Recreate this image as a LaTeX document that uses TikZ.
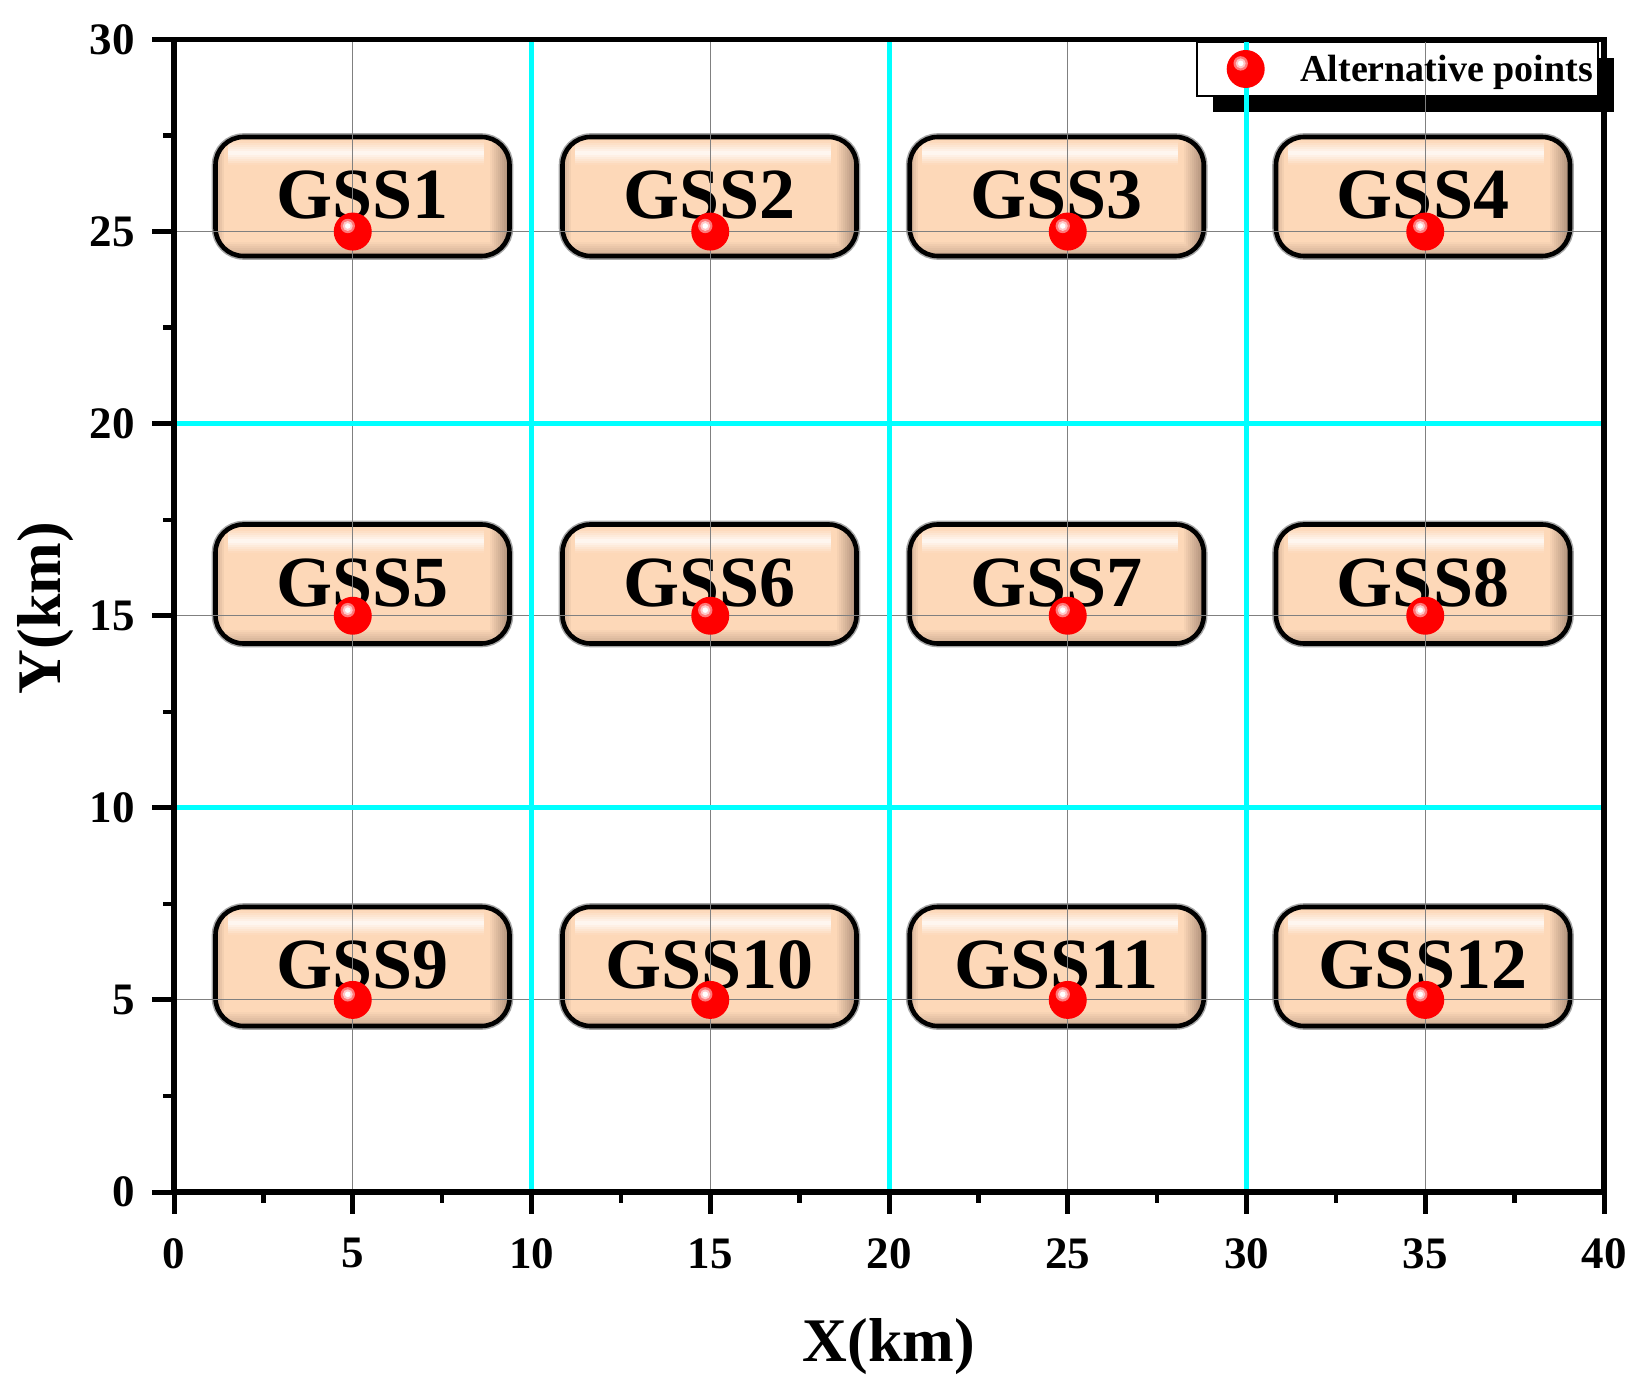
\documentclass[tikz,border=0pt]{standalone}
\usepackage{fontspec}
\setmainfont{Liberation Serif}
\usetikzlibrary{shadows,calc}
\definecolor{peach}{RGB}{253,216,184}
\definecolor{bevel}{RGB}{140,112,95}
\definecolor{gridgray}{RGB}{128,128,128}
\definecolor{gridcyan}{RGB}{0,255,255}
\definecolor{ballpink}{RGB}{255,120,120}
\definecolor{balllight}{RGB}{255,200,200}
\begin{document}
\begin{tikzpicture}[x=0.5pt,y=-0.5pt,
  gssbox/.style={draw=black, line width=2.3pt, rounded corners=14pt, fill=peach,
    minimum width=147pt, minimum height=59.5pt, inner sep=0pt,
    preaction={draw=black!35, line width=3.8pt},
    path picture={
      % right dark bevel
      \foreach \s in {0,...,9}{
        \pgfmathtruncatemacro\p{(\s+1)*7}
        \fill[sharp corners, bevel!\p!peach] ([xshift={-10pt+\s*1pt}]path picture bounding box.north east)
          rectangle (path picture bounding box.south east);}
      % bottom dark bevel
      \foreach \s in {0,...,6}{
        \pgfmathtruncatemacro\p{(\s+1)*6}
        \fill[sharp corners, bevel!\p!peach, opacity=0.8] ([yshift={7pt-\s*1pt}]path picture bounding box.south west)
          rectangle ([xshift={-10pt+\s*1pt}]path picture bounding box.south east);}
      % left soft bevel
      \foreach \s in {0,...,3}{
        \pgfmathtruncatemacro\p{(4-\s)*9}
        \fill[sharp corners, bevel!\p!peach] ([xshift={\s*1pt}]path picture bounding box.north west)
          rectangle ([xshift={\s*1pt+1pt}]path picture bounding box.south west);}
      % top glossy highlight
      \foreach \s in {0,...,11}{
        \pgfmathsetmacro\o{0.85*(1-abs(\s-5.5)/6)}
        \fill[sharp corners, white, opacity=\o] ([shift={(6pt,{-2pt-\s*1pt})}]path picture bounding box.north west)
          rectangle ([shift={(-13pt,{-3pt-\s*1pt})}]path picture bounding box.north east);}
    }},
  gsstext/.style={font=\fontsize{36}{40}\selectfont\bfseries, inner sep=0pt},
  ball/.style={circle, fill=red, minimum size=19pt, inner sep=0pt,
    path picture={
      \fill[ballpink] ([shift={(-2.5pt,2.8pt)}]path picture bounding box.center) circle (3.6pt);
      \fill[balllight] ([shift={(-2.5pt,2.8pt)}]path picture bounding box.center) circle (2.5pt);
      \fill[white] ([shift={(-2.5pt,2.8pt)}]path picture bounding box.center) circle (1.4pt);
    }},
  ticklabel/.style={font=\fontsize{22.5}{25}\selectfont\bfseries, inner sep=0pt},
  axistitle/.style={font=\fontsize{31}{34}\selectfont\bfseries, inner sep=0pt},
  graygrid/.style={draw=gridgray, line width=0.5pt},
  cyangrid/.style={draw=gridcyan, line width=2.5pt},
]
\useasboundingbox (0,0) rectangle (1649,1390);
% legend frame with shadow
\node[draw=black, line width=0.6pt, fill=white, minimum width=200.5pt, minimum height=27pt, inner sep=0pt,
  general shadow={fill=black, shadow xshift=8pt, shadow yshift=-8.25pt}] (legend) at (1397.5,69) {};
% boxes
\foreach \cx [count=\i from 0] in {362.5,709.5,1056.7,1423}{
  \foreach \cy [count=\j from 0] in {196.5,584,966.5}{
    \pgfmathtruncatemacro\n{4*\j+\i+1}
    \node[gssbox] (gss\n) at (\cx,\cy) {};
    \node[gsstext, anchor=base] (gsslabel\n) at (\cx,\cy+22) {GSS\n};
  }}
% grid lines
\foreach \k in {5,15,25,35}{
  \draw[graygrid] ({174+35.75*\k},39.5) -- ({174+35.75*\k},1192);}
\foreach \k in {5,15,25}{
  \draw[graygrid] (174,{1192-38.417*\k}) -- (1604,{1192-38.417*\k});}
\foreach \k in {10,20,30}{
  \draw[cyangrid] ({174+35.75*\k},39.5) -- ({174+35.75*\k},1192);}
\foreach \k in {10,20}{
  \draw[cyangrid] (174,{1192-38.417*\k}) -- (1604,{1192-38.417*\k});}
% points
\foreach \i in {0,...,3}{
  \foreach \j in {0,1,2}{
    \pgfmathtruncatemacro\n{4*\j+\i+1}
    \node[ball] (pt\n) at ({174+35.75*(5+10*\i)},{1192-38.417*(25-10*\j)}) {};
  }}
% legend content
\node[ball] (legball) at (1245.7,69) {};
\node[font=\fontsize{19}{22}\selectfont\bfseries, inner sep=0pt, anchor=base west] (legtext) at (1300,81.7) {Alternative points};
% axes
\draw[line width=2.75pt] (174,39.5) rectangle (1604,1192);
\foreach \k in {0,5,...,40}{
  \draw[line width=2.5pt] ({174+35.75*\k},1192) -- ({174+35.75*\k},1214);
  \node[ticklabel, anchor=north] (xl\k) at ({174+35.75*\k},1238) {\k};}
\foreach \k in {2.5,7.5,12.5,17.5,22.5,27.5,32.5,37.5}{
  \draw[line width=2.2pt] ({174+35.75*\k},1192) -- ({174+35.75*\k},1203);}
\foreach \k in {0,5,...,30}{
  \draw[line width=2.5pt] (174,{1192-38.417*\k}) -- (152,{1192-38.417*\k});
  \node[ticklabel, anchor=east] (yl\k) at (135,{1192-38.417*\k}) {\k};}
\foreach \k in {2.5,7.5,12.5,17.5,22.5,27.5}{
  \draw[line width=2.2pt] (174,{1192-38.417*\k}) -- (163,{1192-38.417*\k});}
% axis titles
\node[axistitle] (xtitle) at (889,1347) {X(km)};
\node[axistitle, rotate=90] (ytitle) at (46,608) {Y(km)};
\end{tikzpicture}
\end{document}
